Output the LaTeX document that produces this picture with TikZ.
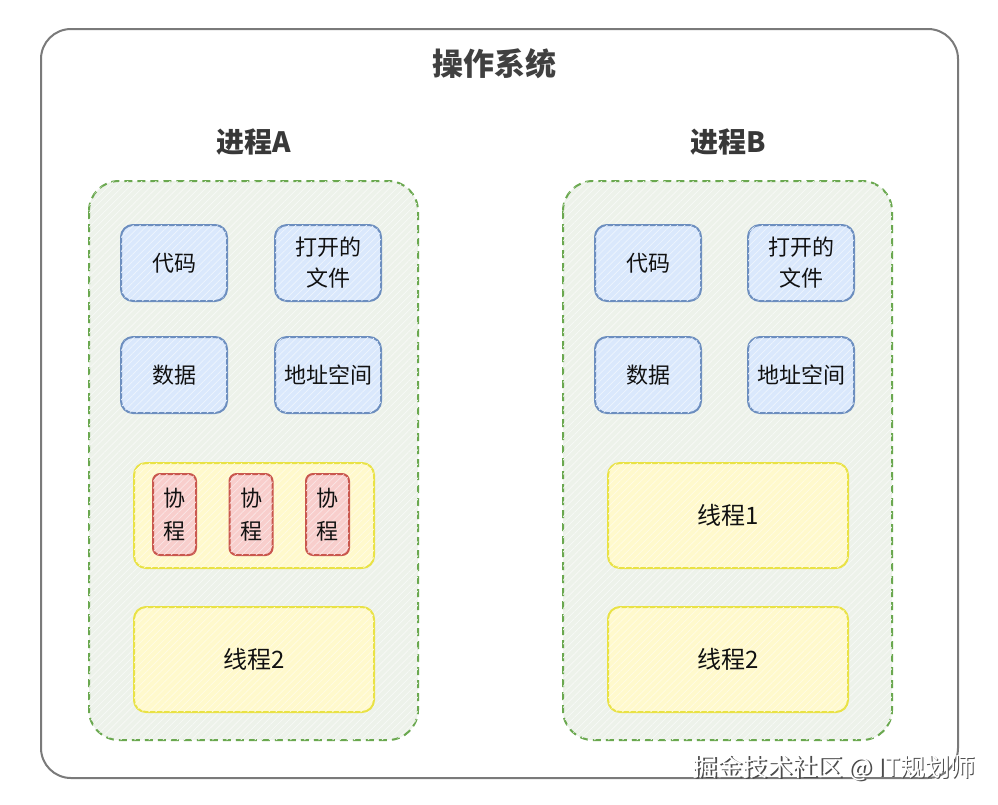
\documentclass[tikz,border=0pt]{standalone}
\usepackage{fontspec}
\setmainfont{Noto Sans CJK SC}
\usetikzlibrary{patterns.meta}
\definecolor{outerc}{HTML}{7A7A7A}
\definecolor{procfill}{HTML}{EDF2EA}
\definecolor{procline}{HTML}{6AA84F}
\definecolor{bluefill}{HTML}{DAE8FC}
\definecolor{blueline}{HTML}{6C8EBF}
\definecolor{yelfill}{HTML}{FFF9CC}
\definecolor{yelline}{HTML}{E9E245}
\definecolor{redfill}{HTML}{F8CECC}
\definecolor{redline}{HTML}{C9574E}
\definecolor{txt}{HTML}{111111}
\tikzset{
  hatch/.style={postaction={pattern={Lines[angle=45,distance=5pt,line width=0.7pt]},pattern color=#1}},
  outerbox/.style={draw=outerc,line width=2pt,rounded corners=30pt,fill=white},
  procbox/.style={draw=procline,line width=2pt,dash pattern=on 8pt off 5pt,rounded corners=30pt,fill=procfill,hatch=white!60!procfill},
  bluebox/.style={draw=blueline,line width=2pt,rounded corners=12pt,fill=bluefill,hatch=white!55!bluefill,align=center,font=\fontsize{22}{31}\selectfont,text=txt},
  yelbox/.style={draw=yelline,line width=2pt,rounded corners=12pt,fill=yelfill,hatch=white!50!yelfill,font=\fontsize{24}{28}\selectfont,text=txt},
  redbox/.style={draw=redline,line width=2pt,rounded corners=7pt,fill=redfill,hatch=white!50!redfill,align=center,font=\fontsize{22}{33}\selectfont,text=txt},
  lbl/.style={font=\fontsize{28}{32}\selectfont\bfseries,text=black!78},
}
\newcommand{\bx}[6]{\node[#1,minimum width=#4pt,minimum height=#5pt,inner sep=0pt] (#2) at (#3) {#6};}
\begin{document}
\begin{tikzpicture}[x=1pt,y=-1pt]
\useasboundingbox (0,0) rectangle (998,804);
\fill[white] (0,0) rectangle (998,804);
% outer
\draw[outerbox] (41,29) rectangle (958,778);
\node[font=\fontsize{31}{34}\selectfont\bfseries,text=black!75] (title) at (494,64) {操作系统};
% process A
\draw[procbox] (89,181) rectangle (418,740);
\node[lbl] (pa) at (254,142) {进程A};
\bx{bluebox}{a1}{174,263}{106}{76}{代码}
\bx{bluebox}{a2}{328,263}{106}{76}{打开的\\文件}
\bx{bluebox}{a3}{174,375}{106}{76}{数据}
\bx{bluebox}{a4}{328,375}{106}{76}{地址空间}
\bx{yelbox}{at1}{254,515.5}{240}{105}{}
\bx{redbox}{c1}{174.5,514.5}{43}{81}{协\\程}
\bx{redbox}{c2}{251,514.5}{43}{81}{协\\程}
\bx{redbox}{c3}{327.5,514.5}{43}{81}{协\\程}
\bx{yelbox}{at2}{254,659.5}{240}{105}{线程2}
% process B
\draw[procbox] (563,181) rectangle (892,740);
\node[lbl] (pb) at (728,142) {进程B};
\bx{bluebox}{b1}{648,263}{106}{76}{代码}
\bx{bluebox}{b2}{801,263}{106}{76}{打开的\\文件}
\bx{bluebox}{b3}{648,375}{106}{76}{数据}
\bx{bluebox}{b4}{801,375}{106}{76}{地址空间}
\bx{yelbox}{bt1}{728,515.5}{240}{105}{线程1}
\bx{yelbox}{bt2}{728,659.5}{240}{105}{线程2}
% watermark
\node[font=\fontsize{25}{27}\selectfont,text=black!70] (wm0) at (835.5,769.5) {掘金技术社区 @ IT规划师};
\node[font=\fontsize{25}{27}\selectfont,text=white] (wm) at (834,768) {掘金技术社区 @ IT规划师};
\end{tikzpicture}
\end{document}
